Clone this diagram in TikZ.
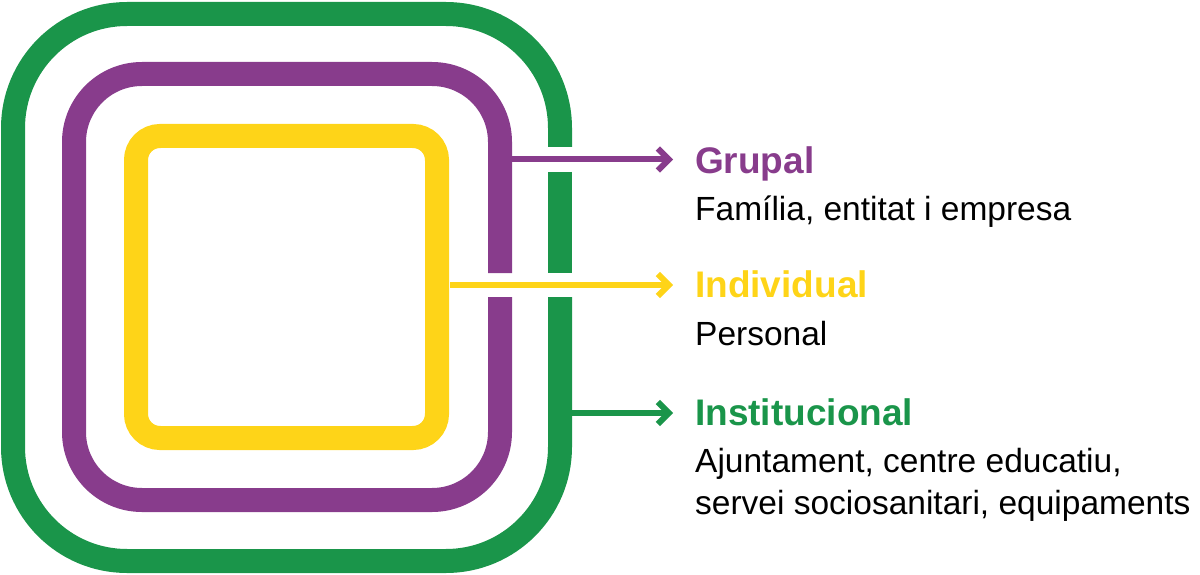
\documentclass[tikz,border=0pt]{standalone}
\usepackage{fontspec}
\setmainfont{Liberation Sans}
\usetikzlibrary{arrows.meta}
\definecolor{cgreen}{RGB}{26,149,74}
\definecolor{cpurple}{RGB}{136,60,140}
\definecolor{cyellow}{RGB}{254,212,24}
\tikzset{
  ring/.style={line width=24pt, line cap=butt},
  conn/.style={line width=6pt, -{Straight Barb[length=11pt,width=22pt,line width=6pt]}},
  head/.style={anchor=base west, inner sep=0pt, font=\fontsize{37}{40}\selectfont\bfseries},
  desc/.style={anchor=base west, inner sep=0pt, font=\fontsize{33.5}{40}\selectfont, text=black}
}
\begin{document}
\begin{tikzpicture}[x=1pt,y=-1pt]
\useasboundingbox (0,0) rectangle (1200,575);
% green outer ring with two gaps
\draw[ring, cgreen, rounded corners=114pt] (560,297) -- (560,561) -- (13,561) -- (13,14) -- (560,14) -- (560,147);
\draw[ring, cgreen] (560,172) -- (560,273);
% purple ring with one gap
\draw[ring, cpurple, rounded corners=68pt] (500,297) -- (500,500) -- (74,500) -- (74,74) -- (500,74) -- (500,273);
% yellow ring
\draw[ring, cyellow, rounded corners=24pt] (136,136) rectangle (437,438);
% coordinates for connectors
\coordinate (pS) at (512,159.5);
\coordinate (pE) at (673,159.5);
\coordinate (yS) at (450,285);
\coordinate (yE) at (673,285);
\coordinate (gS) at (572,413);
\coordinate (gE) at (673,413);
\draw[conn, cpurple] (pS) -- (pE);
\draw[conn, cyellow] (yS) -- (yE);
\draw[conn, cgreen] (gS) -- (gE);
% texts
\node[head, text=cpurple] (grupal) at (695,174) {Grupal};
\node[desc] (familia) at (695,220) {Família, entitat i empresa};
\node[head, text=cyellow] (individual) at (695,297) {Individual};
\node[desc] (personal) at (695,345) {Personal};
\node[head, text=cgreen] (institucional) at (695,425) {Institucional};
\node[desc] (ajuntament) at (695,472) {Ajuntament, centre educatiu,};
\node[desc] (servei) at (695,514) {servei sociosanitari, equipaments};
\end{tikzpicture}
\end{document}
